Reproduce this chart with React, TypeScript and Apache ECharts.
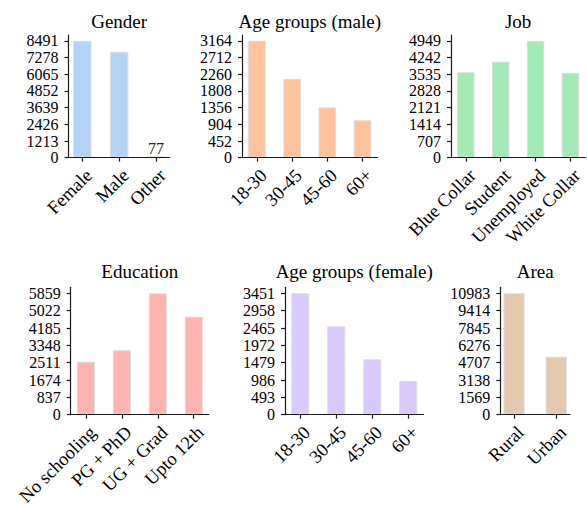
import React, { useEffect, useRef } from "react";
import * as echarts from "echarts";

const genderCats = ["Female", "Male", "Other"];
const genderVals = [8491, 7697, 77];
const ageMaleCats = ["18-30", "30-45", "45-60", "60+"];
const ageMaleVals = [3164, 2134, 1363, 1013];
const jobCats = ["Blue Collar", "Student", "Unemployed", "White Collar"];
const jobVals = [3616, 4066, 4949, 3591];
const eduCats = ["No schooling", "PG + PhD", "UG + Grad", "Upto 12th"];
const eduVals = [2558, 3108, 5859, 4730];
const ageFemaleCats = ["18-30", "30-45", "45-60", "60+"];
const ageFemaleVals = [3451, 2513, 1575, 958];
const areaCats = ["Rural", "Urban"];
const areaVals = [10983, 5247];

const titles = ["Gender", "Age groups (male)", "Job", "Education", "Age groups (female)", "Area"];
const categories = [genderCats, ageMaleCats, jobCats, eduCats, ageFemaleCats, areaCats];
const values = [genderVals, ageMaleVals, jobVals, eduVals, ageFemaleVals, areaVals];
const colors = ["#b4d4f6", "#ffc39b", "#a4eab4", "#ffb2af", "#d9c9ff", "#e5c9af"];

const panels = [
  { left: 68.5, width: 101.3, top: 35, height: 122.7, titleTop: 12 },
  { left: 242, width: 135.5, top: 35, height: 122.7, titleTop: 12 },
  { left: 451, width: 134.3, top: 35, height: 122.7, titleTop: 12 },
  { left: 70.7, width: 138.3, top: 287.3, height: 127.4, titleTop: 262 },
  { left: 285, width: 138.5, top: 287.3, height: 127.4, titleTop: 262 },
  { left: 500.3, width: 69.7, top: 287.3, height: 127.4, titleTop: 262 },
];

const FONT = "Liberation Serif";
const axisLineStyle = { color: "#1a1a1a", width: 1.2 };

export default function App() {
  const ref = useRef<HTMLDivElement>(null);
  useEffect(() => {
    if (!ref.current) return;
    const chart = echarts.init(ref.current, null, { renderer: "svg" });
    const grid: any[] = [];
    const xAxis: any[] = [];
    const yAxis: any[] = [];
    const series: any[] = [];
    const title: any[] = [];
    panels.forEach((p, i) => {
      const cats = categories[i];
      const vals = values[i];
      const n = cats.length;
      const maxV = Math.max(...vals);
      const m = 0.25 + 0.05 * (n - 0.5);
      const idx = cats.map((_, k) => k);
      const yticks = Array.from({ length: 8 }, (_, k) => (maxV * k) / 7);
      grid.push({ left: p.left, top: p.top, width: p.width, height: p.height });
      title.push({
        text: titles[i],
        left: p.left + p.width / 2,
        top: p.titleTop,
        padding: 0,
        textAlign: "center",
        textStyle: { fontFamily: FONT, fontSize: 19, fontWeight: "normal", color: "#000" },
      });
      xAxis.push({
        gridIndex: i,
        type: "value",
        min: -m,
        max: n - 1 + m,
        z: 5,
        axisLine: { show: true, onZero: false, lineStyle: axisLineStyle },
        splitLine: { show: false },
        axisTick: { show: true, customValues: idx, length: 4, lineStyle: axisLineStyle },
        axisLabel: {
          customValues: idx,
          formatter: (v: number) => cats[Math.round(v)] ?? "",
          rotate: 45,
          align: "right",
          verticalAlign: "top",
          margin: 8,
          fontFamily: FONT,
          fontSize: 18.5,
          color: "#000",
        },
      });
      yAxis.push({
        gridIndex: i,
        type: "value",
        min: 0,
        max: maxV * 1.05,
        z: 5,
        axisLine: { show: true, onZero: false, lineStyle: axisLineStyle },
        splitLine: { show: false },
        axisTick: { show: true, customValues: yticks, length: 4, lineStyle: axisLineStyle },
        axisLabel: {
          customValues: yticks,
          formatter: (v: number) => String(Math.round(v)),
          margin: 10,
          fontFamily: FONT,
          fontSize: 16,
          color: "#000",
        },
      });
      series.push({
        type: "bar",
        xAxisIndex: i,
        yAxisIndex: i,
        barWidth: "50%",
        itemStyle: { color: colors[i], borderColor: "#dcdcdc", borderWidth: 1 },
        data: vals.map((v, k) => ({
          value: [k, v],
          label:
            v < maxV * 0.05
              ? {
                  show: true,
                  position: "top",
                  distance: 0,
                  formatter: String(v),
                  fontFamily: FONT,
                  fontSize: 16,
                  color: "#222",
                }
              : { show: false },
        })),
      });
    });
    chart.setOption({ animation: false, backgroundColor: "#fff", title, grid, xAxis, yAxis, series });
    return () => chart.dispose();
  }, []);
  return (
    <div
      ref={ref}
      style={{ position: "fixed", left: 0, top: 0, width: 587, height: 510, background: "#fff" }}
    />
  );
}
